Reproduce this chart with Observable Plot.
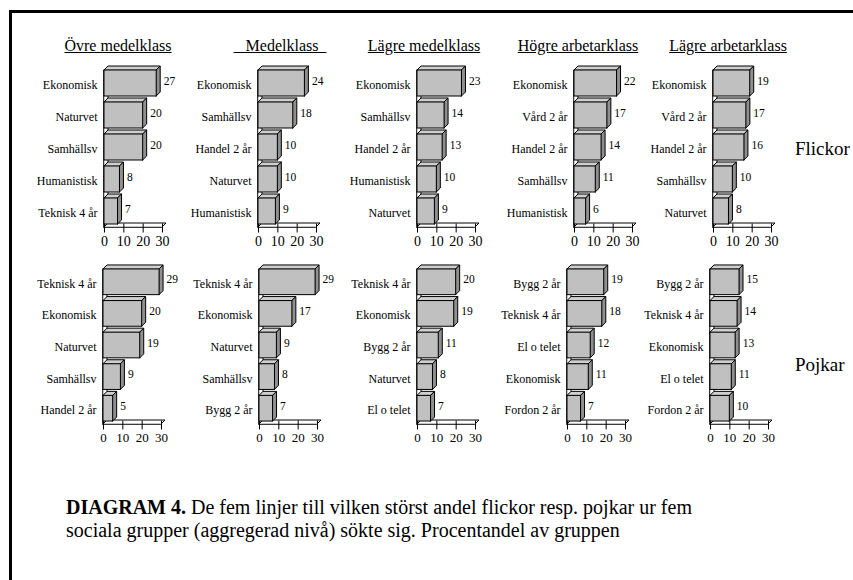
<!DOCTYPE html>
<html>
<head>
<meta charset="utf-8">
<script src="https://cdn.jsdelivr.net/npm/d3@7"></script>
<script src="https://cdn.jsdelivr.net/npm/@observablehq/plot@0.6"></script>
<style>
  html, body { margin: 0; padding: 0; background: white; }
  #root { position: relative; width: 853px; height: 580px; overflow: hidden; background: white;
          font-family: 'Liberation Serif', 'Times New Roman', serif; color: black; }
  #frame { position: absolute; left: 9px; top: 10px; width: 900px; height: 700px;
           border-left: 3px solid black; border-top: 3px solid black; }
  .title { position: absolute; top: 38px; font-size: 16px; line-height: 16px; white-space: pre;
           font-family: 'Liberation Serif', 'Times New Roman', serif;
           text-decoration: underline; transform: translateX(-50%); }
  .side { position: absolute; left: 795px; font-size: 19px; line-height: 19px;
          font-family: 'Liberation Serif', 'Times New Roman', serif; }
  .panel { position: absolute; }
  #caption { position: absolute; left: 66px; top: 496px; font-size: 20px; line-height: 23px;
             font-family: 'Liberation Serif', 'Times New Roman', serif; }
</style>
</head>
<body>
<div id="root">
  <div id="frame"></div>
  <div id="caption"><b>DIAGRAM 4.</b> De fem linjer till vilken störst andel flickor resp. pojkar ur fem<br>sociala grupper (aggregerad nivå) sökte sig. Procentandel av gruppen</div>
</div>
<script>
// ---- data ----
const groups = ["Övre medelklass", "\u00a0\u00a0\u00a0Medelklass\u00a0\u00a0", "Lägre medelklass", "Högre arbetarklass", "Lägre arbetarklass"];
const rowNames = ["Flickor", "Pojkar"];

const flickorLabels = [
  ["Ekonomisk", "Naturvet", "Samhällsv", "Humanistisk", "Teknisk 4 år"],
  ["Ekonomisk", "Samhällsv", "Handel 2 år", "Naturvet", "Humanistisk"],
  ["Ekonomisk", "Samhällsv", "Handel 2 år", "Humanistisk", "Naturvet"],
  ["Ekonomisk", "Vård 2 år", "Handel 2 år", "Samhällsv", "Humanistisk"],
  ["Ekonomisk", "Vård 2 år", "Handel 2 år", "Samhällsv", "Naturvet"]
];
const flickorValues = [
  [27, 20, 20, 8, 7],
  [24, 18, 10, 10, 9],
  [23, 14, 13, 10, 9],
  [22, 17, 14, 11, 6],
  [19, 17, 16, 10, 8]
];
const pojkarLabels = [
  ["Teknisk 4 år", "Ekonomisk", "Naturvet", "Samhällsv", "Handel 2 år"],
  ["Teknisk 4 år", "Ekonomisk", "Naturvet", "Samhällsv", "Bygg 2 år"],
  ["Teknisk 4 år", "Ekonomisk", "Bygg 2 år", "Naturvet", "El o telet"],
  ["Bygg 2 år", "Teknisk 4 år", "El o telet", "Ekonomisk", "Fordon 2 år"],
  ["Bygg 2 år", "Teknisk 4 år", "Ekonomisk", "El o telet", "Fordon 2 år"]
];
const pojkarValues = [
  [29, 20, 19, 9, 5],
  [29, 17, 9, 8, 7],
  [20, 19, 11, 8, 7],
  [19, 18, 12, 11, 7],
  [15, 14, 13, 11, 10]
];
const xTicks = [0, 10, 20, 30];

// ---- layout ----
const titleCenters = [118, 280, 424, 578, 728];
const rowLayout = [
  { top: 55, yRange: [12, 172], x0: [104, 258, 417, 574, 713], tickFont: 14, sideTop: 139 },
  { top: 254, yRange: [12, 170], x0: [103, 259, 417, 567, 710], tickFont: 13, sideTop: 355 }
];
const ML = 75, AXW = 58, MR = 30, PH = 200;
const font = "'Liberation Serif', 'Times New Roman', serif";
const root = document.getElementById("root");

groups.forEach((g, j) => {
  const t = document.createElement("div");
  t.className = "title";
  t.style.left = titleCenters[j] + "px";
  t.textContent = g;
  root.appendChild(t);
});

rowNames.forEach((name, r) => {
  const s = document.createElement("div");
  s.className = "side";
  s.style.top = rowLayout[r].sideTop + "px";
  s.textContent = name;
  root.appendChild(s);
});

function panel(labels, values, lay, j) {
  const yR = lay.yRange;
  const slot = (yR[1] - yR[0]) / 5;
  const dX = 4 / (AXW / 30);   // depth in x units (4px)
  const dY = 4 / slot;          // depth in y units (4px)
  const h0 = 3 / 32, h1 = 29 / 32;
  const d = labels.map((label, i) => ({ label, value: values[i], i }));
  const tops = d.flatMap(b => [
    { id: b.i, y: b.i + h0, x1: 0, x2: b.value },
    { id: b.i, y: b.i + h0 - dY, x1: dX, x2: b.value + dX }
  ]);
  const sides = d.flatMap(b => [
    { id: b.i, x: b.value, y1: b.i + h1, y2: b.i + h0 },
    { id: b.i, x: b.value + dX, y1: b.i + h1 - dY, y2: b.i + h0 - dY }
  ]);
  const wall = [
    { x: 0, y1: 5, y2: h0 },
    { x: dX, y1: 5 - dY, y2: h0 - dY }
  ];
  const floor = [
    { y: 5, x1: 0, x2: 30 },
    { y: 5 - dY, x1: dX, x2: 30 + dX }
  ];
  const chart = Plot.plot({
    width: ML + AXW + MR,
    height: PH,
    margin: 0,
    x: { domain: [0, 30], range: [ML, ML + AXW], axis: null },
    y: { domain: [0, 5], range: yR, axis: null },
    style: { fontFamily: font, background: "transparent", overflow: "visible", color: "black" },
    marks: [
      Plot.areaY(wall, { x: "x", y1: "y1", y2: "y2", fill: "white", stroke: "black", strokeWidth: 1 }),
      Plot.areaX(floor, { y: "y", x1: "x1", x2: "x2", fill: "white", stroke: "black", strokeWidth: 1 }),
      Plot.link(xTicks, { x1: v => v, x2: v => v, y1: 5 - dY, y2: 5 + 5 / 32, stroke: "black", strokeWidth: 1 }),
      Plot.text(xTicks, { x: v => v, y: 5 + 14 / 32, text: v => String(v), fontSize: lay.tickFont, fontFamily: font, fill: "black" }),
      Plot.areaX(tops, { y: "y", x1: "x1", x2: "x2", z: "id", fill: "#cfcfcf", stroke: "black", strokeWidth: 1 }),
      Plot.areaY(sides, { x: "x", y1: "y1", y2: "y2", z: "id", fill: "#8f8f8f", stroke: "black", strokeWidth: 1 }),
      Plot.rect(d, { x1: 0, x2: "value", y1: b => b.i + h0, y2: b => b.i + h1, fill: "#c0c0c0", stroke: "black", strokeWidth: 1 }),
      Plot.text(d, { x: 0, y: b => b.i + 0.55, text: "label", textAnchor: "end", dx: -7, fontSize: 12, fontFamily: font, fill: "black" }),
      Plot.text(d, { x: b => b.value + dX, y: b => b.i + 0.42, text: b => String(b.value), textAnchor: "start", dx: 3, fontSize: 11.5, fontFamily: font, fill: "black" })
    ]
  });
  const wrap = document.createElement("div");
  wrap.className = "panel";
  wrap.style.left = (lay.x0[j] - ML) + "px";
  wrap.style.top = lay.top + "px";
  wrap.appendChild(chart);
  root.appendChild(wrap);
}

for (let j = 0; j < 5; j++) {
  panel(flickorLabels[j], flickorValues[j], rowLayout[0], j);
  panel(pojkarLabels[j], pojkarValues[j], rowLayout[1], j);
}
</script>
</body>
</html>
